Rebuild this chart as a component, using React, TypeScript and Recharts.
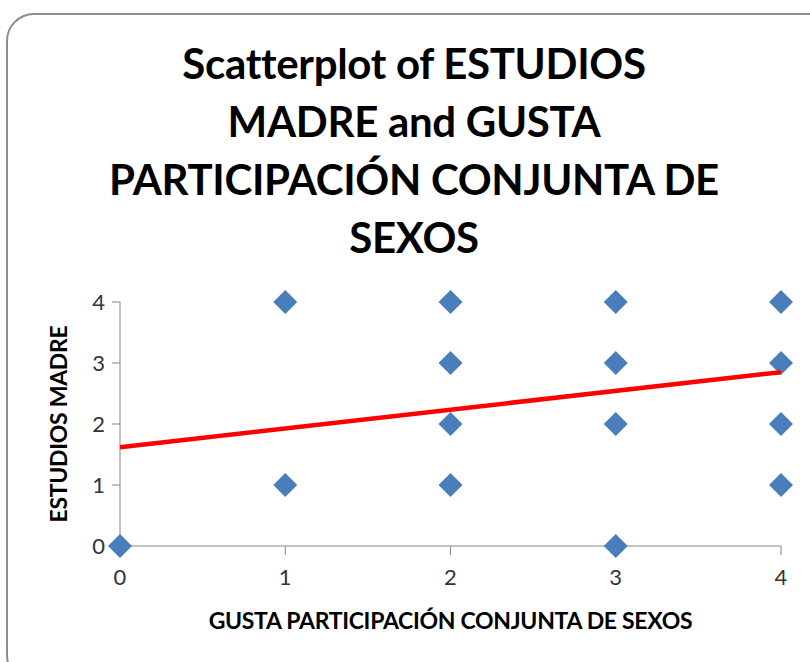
import { ScatterChart, Scatter, XAxis, YAxis, ZAxis } from 'recharts';

const xValues = [0, 1, 1, 2, 2, 2, 2, 3, 3, 3, 3, 4, 4, 4, 4];
const yValues = [0, 4, 1, 4, 3, 2, 1, 4, 3, 2, 0, 4, 3, 2, 1];
const trendX = [0, 4];
const trendY = [1.62, 2.85];
const ticks = [0, 1, 2, 3, 4];
const titleLines = ['Scatterplot of ESTUDIOS', 'MADRE and GUSTA', 'PARTICIPACIÓN CONJUNTA DE', 'SEXOS'];

const points = xValues.map((x, i) => ({ x, y: yValues[i] }));
const trend = trendX.map((x, i) => ({ x, y: trendY[i] }));

const Diamond = (props: any) => {
  const { cx, cy } = props;
  const r = 12;
  return (
    <path
      d={`M${cx},${cy - r} L${cx + r},${cy} L${cx},${cy + r} L${cx - r},${cy} Z`}
      fill="#4a7ebb"
    />
  );
};

const font = 'Lato, "Open Sans", sans-serif';

export default function App() {
  return (
    <div style={{ position: 'absolute', left: 0, top: 0, width: 810, height: 662, overflow: 'hidden', background: '#fff', fontFamily: font }}>
      <div style={{ position: 'absolute', left: 6, top: 13, width: 830, height: 670, border: '2px solid #8c8c8c', borderRadius: 28, boxSizing: 'border-box' }} />
      <div style={{ position: 'absolute', left: 0, top: 34, width: 828, textAlign: 'center', fontWeight: 700, fontSize: 42, lineHeight: '58px', color: '#000', letterSpacing: -0.3 }}>
        {titleLines.map((t) => (
          <div key={t}>{t}</div>
        ))}
      </div>
      <ScatterChart width={810} height={662} margin={{ top: 302, right: 29, bottom: 0, left: 60 }} style={{ position: 'absolute', left: 0, top: 0 }}>
        <XAxis
          type="number"
          dataKey="x"
          domain={[0, 4]}
          ticks={ticks}
          height={116}
          axisLine={{ stroke: '#868686' }}
          tickLine={{ stroke: '#868686' }}
          tickSize={9}
          tickMargin={14}
          tick={{ fill: '#333', fontSize: 22, fontFamily: font }}
        />
        <YAxis
          type="number"
          dataKey="y"
          domain={[0, 4]}
          ticks={ticks}
          width={60}
          axisLine={{ stroke: '#868686' }}
          tickLine={{ stroke: '#868686' }}
          tickSize={8}
          tickMargin={7}
          tick={{ fill: '#333', fontSize: 22, fontFamily: font }}
        />
        <ZAxis range={[100, 100]} />
        <Scatter data={points} shape={<Diamond />} isAnimationActive={false} />
        <Scatter data={trend} line={{ stroke: '#ff0000', strokeWidth: 4.5 }} shape={() => <g />} isAnimationActive={false} />
      </ScatterChart>
      <div style={{ position: 'absolute', left: 100, top: 605, width: 701, textAlign: 'center', fontWeight: 700, fontSize: 23, lineHeight: '30px', color: '#000', letterSpacing: -0.3 }}>
        GUSTA PARTICIPACIÓN CONJUNTA DE SEXOS
      </div>
      <div style={{ position: 'absolute', left: 58 - 130, top: 424 - 15, width: 260, textAlign: 'center', fontWeight: 700, fontSize: 23, lineHeight: '30px', color: '#000', letterSpacing: -0.3, transform: 'rotate(-90deg)' }}>
        ESTUDIOS MADRE
      </div>
    </div>
  );
}
